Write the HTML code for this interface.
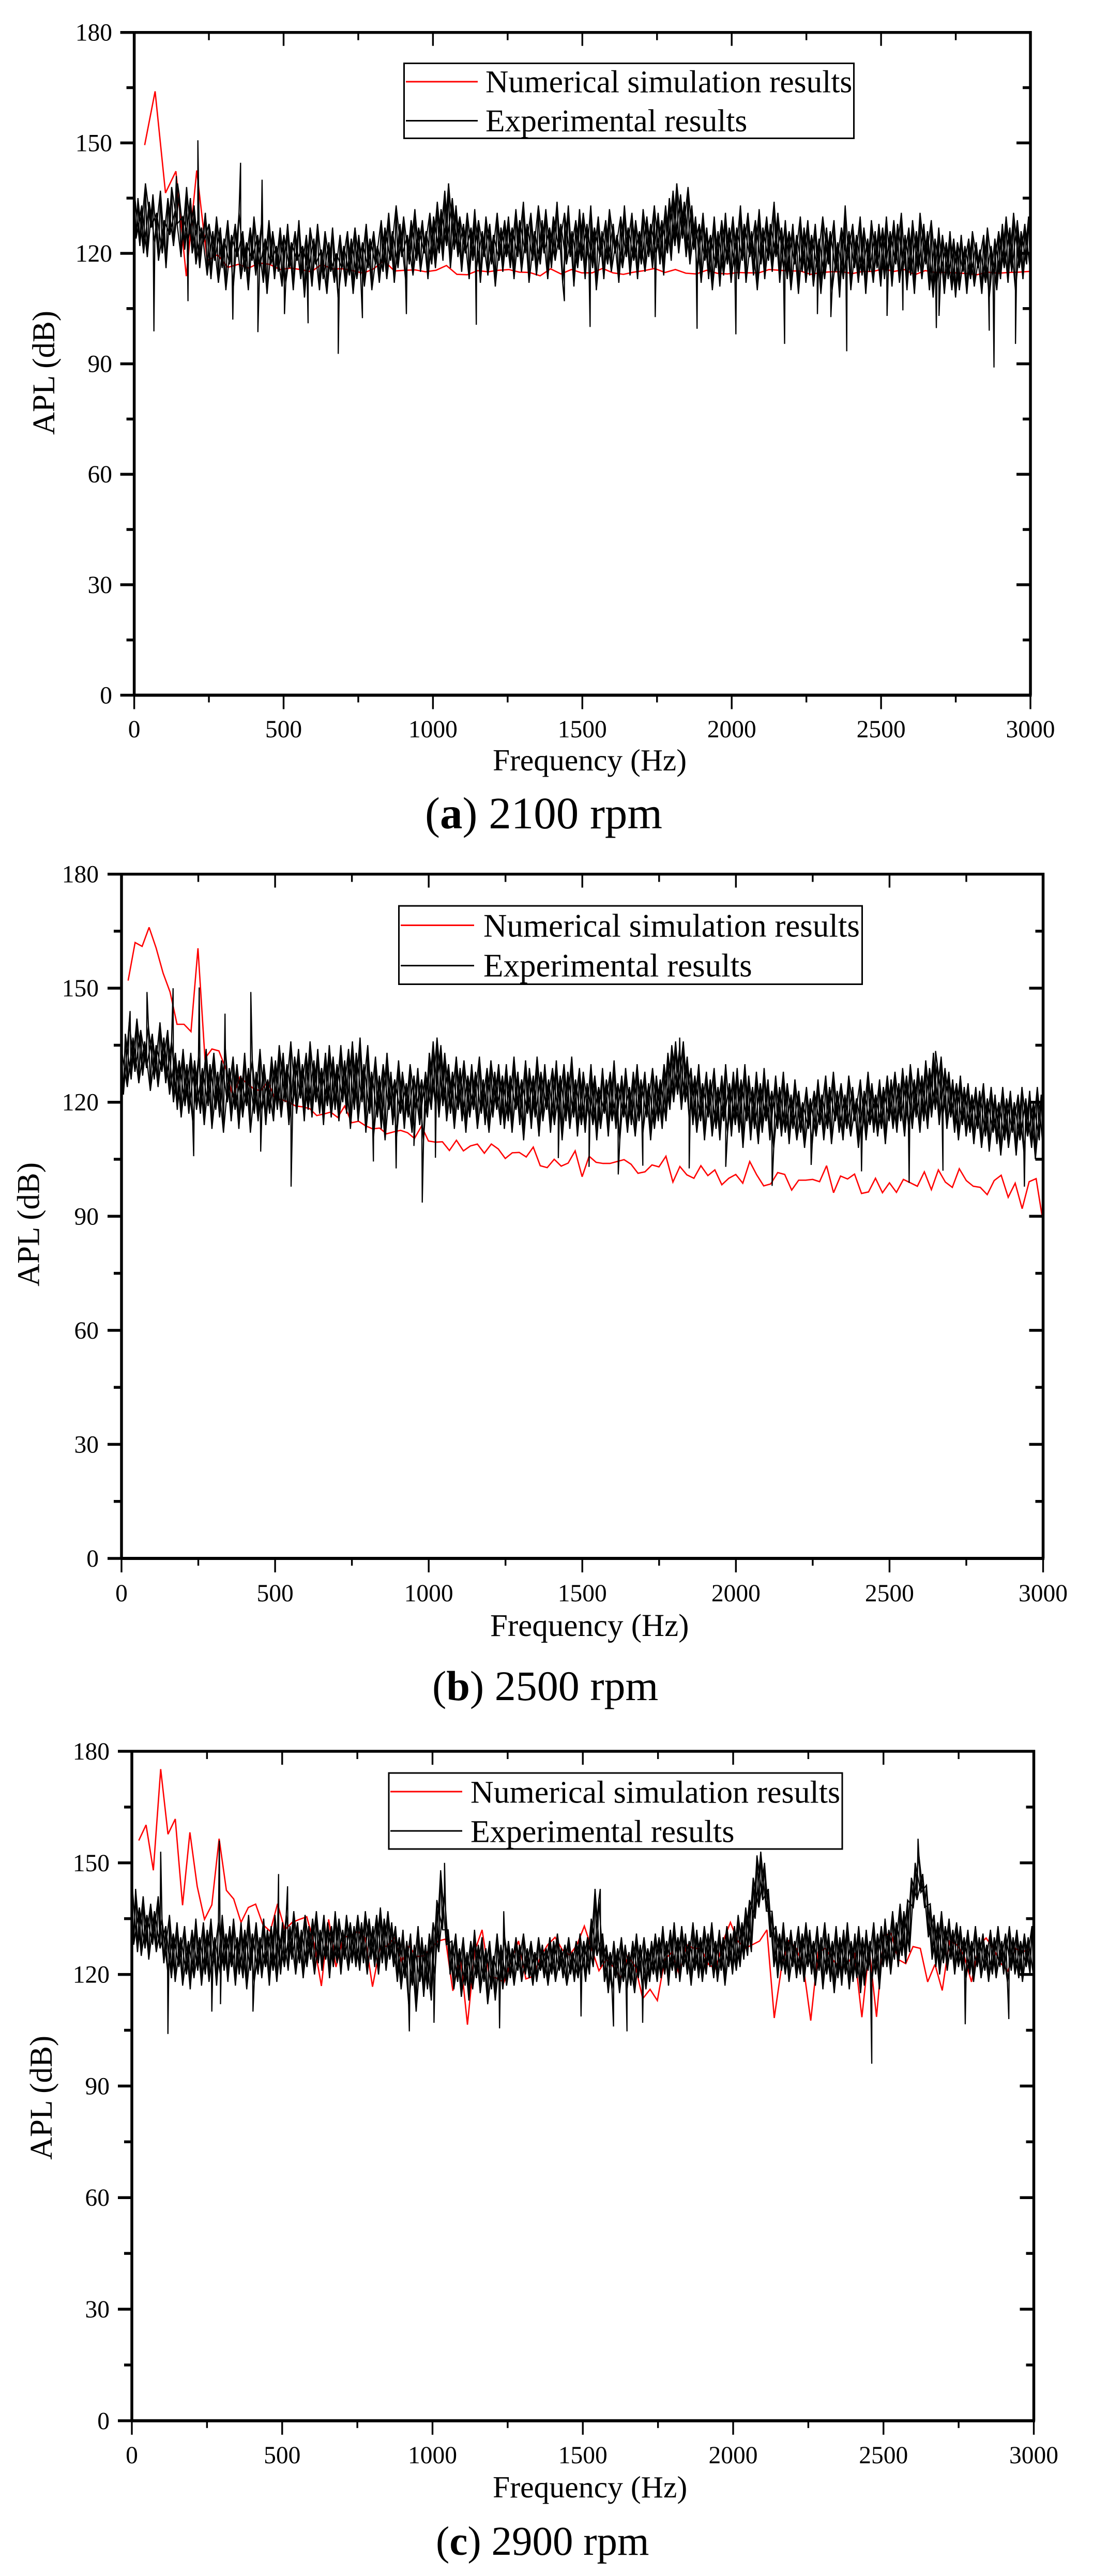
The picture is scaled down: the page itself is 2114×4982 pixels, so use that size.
<!DOCTYPE html>
<html lang="en">
<head>
<meta charset="utf-8">
<title>APL versus frequency at 2100, 2500 and 2900 rpm</title>
<style>
html,body{margin:0;padding:0;background:#fff}
svg{display:block}
text{font-family:"Liberation Serif",serif;fill:#000}
</style>
</head>
<body>
<svg id="figure" xmlns="http://www.w3.org/2000/svg" width="2114" height="4982" viewBox="0 0 2114 4982">
<rect x="0" y="0" width="2114" height="4982" fill="#fff"/>

<g id="chart-a">
  <g class="plot"></g>
  <text transform="translate(105,841) rotate(-90)" font-size="61">APL (dB)</text>
  <text x="953" y="1490" font-size="59.5">Frequency (Hz)</text>
  <g>
    <rect x="781.5" y="122.5" width="870" height="145" fill="#fff" stroke="#000" stroke-width="3"/>
    <line x1="785" x2="924" y1="158" y2="158" stroke="#f00" stroke-width="3"/>
    <text x="939" y="178.5" font-size="61.4">Numerical simulation results</text>
    <line x1="785" x2="924" y1="233.5" y2="233.5" stroke="#000" stroke-width="3"/>
    <text x="939" y="254" font-size="61.4">Experimental results</text>
  </g>
  <text x="822" y="1602" font-size="87"><tspan>(</tspan><tspan font-weight="bold">a</tspan><tspan>) 2100 rpm</tspan></text>
</g>

<g id="chart-b">
  <g class="plot"></g>
  <text transform="translate(75.5,2488) rotate(-90)" font-size="61">APL (dB)</text>
  <text x="948" y="3164" font-size="61">Frequency (Hz)</text>
  <g>
    <rect x="771.5" y="1752" width="896" height="151.5" fill="#fff" stroke="#000" stroke-width="3"/>
    <line x1="775" x2="917" y1="1789.5" y2="1789.5" stroke="#f00" stroke-width="3"/>
    <text x="935" y="1811.5" font-size="63">Numerical simulation results</text>
    <line x1="775" x2="917" y1="1867.5" y2="1867.5" stroke="#000" stroke-width="3"/>
    <text x="935" y="1888.5" font-size="63">Experimental results</text>
  </g>
  <text x="836" y="3288" font-size="82"><tspan>(</tspan><tspan font-weight="bold">b</tspan><tspan>) 2500 rpm</tspan></text>
</g>

<g id="chart-c">
  <g class="plot"></g>
  <text transform="translate(100,4177) rotate(-90)" font-size="61">APL (dB)</text>
  <text x="953" y="4830" font-size="59.7">Frequency (Hz)</text>
  <g>
    <rect x="752" y="3429" width="877" height="147" fill="#fff" stroke="#000" stroke-width="3"/>
    <line x1="755" x2="894" y1="3465" y2="3465" stroke="#f00" stroke-width="3"/>
    <text x="910" y="3486.5" font-size="61.9">Numerical simulation results</text>
    <line x1="755" x2="894" y1="3541" y2="3541" stroke="#000" stroke-width="3"/>
    <text x="910" y="3562.5" font-size="61.9">Experimental results</text>
  </g>
  <text x="843" y="4941" font-size="79"><tspan>(</tspan><tspan font-weight="bold">c</tspan><tspan>) 2900 rpm</tspan></text>
</g>
</svg>

<script>
const freqTickLabels = [0, 500, 1000, 1500, 2000, 2500, 3000];
const freqMinorTicks = [250, 750, 1250, 1750, 2250, 2750];
const aplTickLabels = [0, 30, 60, 90, 120, 150, 180];
const aplMinorTicks = [15, 45, 75, 105, 135, 165];

/* ---------- Chart (a) 2100 rpm ---------- */
const simStartHzA = 35;
const simEndHzA = 2996;
const simDbA = [149.4,164,136.4,142.3,113.8,142.5,118,119.6,116.2,117,116,117.4,117,115.6,116,115.6,115,117,115.8,115.8,115.3,114.6,115.8,118,115.2,115.4,115.5,115,115.4,116.7,114.3,114.2,115.3,115,115.4,115.6,114.9,114.8,113.9,
115.8,114.4,115.6,114.7,114.7,115.9,114.7,114.3,114.9,115.3,115.9,114.8,115.6,114.6,114.4,115.4,114.6,114.4,114.8,114.7,114.7,115.6,115.4,115.2,115.2,114.3,114.8,115,115,114.5,115.1,115.1,115.8,115.1,115.6,114.2,115.3,114.8,114.8,114.7,114.5,114.2,114.9,114.6,114.8,114.9,115.1];
const expDbA = [
137,124,135,122,133,120,139,119,134,127,136,123,131,118,137,120,129,116,135,125,138,122,132,128,136,119,130,121,138,124,135,120,133,117,129,116,127,123,131,114,
128,113,126,118,130,112,127,116,124,110,129,117,125,111,128,119,131,113,126,115,123,110,127,118,130,114,125,116,128,112,124,109,129,117,126,113,122,115,127,111,
125,112,128,116,123,110,126,118,129,113,122,108,125,115,127,111,124,117,128,110,121,113,126,109,123,115,127,112,120,108,125,116,122,111,126,114,124,109,127,113,
125,114,123,111,128,116,124,110,126,117,122,112,129,115,127,113,131,118,126,112,133,116,128,119,130,113,125,117,129,114,132,118,127,115,129,120,126,113,131,117,
130,116,134,120,132,118,137,122,139,116,135,121,133,119,130,115,128,120,131,113,127,118,132,116,129,112,126,119,130,114,128,117,125,111,131,118,127,115,129,119,
130,116,127,113,132,119,129,115,134,120,128,112,131,118,126,114,133,117,129,120,132,113,127,116,130,118,134,121,128,112,131,117,133,119,126,111,129,116,132,118,
131,113,128,118,133,116,127,110,130,119,126,113,129,117,132,115,128,120,125,112,130,116,133,119,127,114,131,118,129,113,126,117,132,115,130,119,128,116,133,120,
131,117,129,114,133,120,135,118,137,122,139,120,136,124,134,119,138,117,133,121,130,115,128,112,131,118,127,113,125,110,130,116,126,111,129,114,131,117,127,112,
130,116,127,113,133,118,128,112,131,119,126,114,129,110,132,117,127,113,130,118,128,115,134,119,131,112,127,116,129,113,126,110,128,117,125,109,130,115,127,112,
129,114,125,111,128,116,124,109,130,113,127,117,126,110,129,115,123,108,127,113,133,118,126,110,128,116,125,112,130,114,127,109,124,115,129,112,126,116,128,111,
127,113,130,115,126,111,129,117,128,112,131,116,125,110,127,114,129,109,126,115,131,113,128,117,126,110,129,108,124,112,127,114,125,109,123,113,126,110,124,108,
123,110,125,115,122,109,124,113,126,111,123,116,121,109,125,112,127,108,122,114,124,110,126,113,128,116,130,112,127,115,131,110,129,116,126,113,128,117,130,115
];
const spikeHzA = [141,145,213,356,428,66,180,330,414,503,582,683,764,911,1145,1440,1526,1744,1884,2014,2177,2287,2332,2385,2520,2573,2685,2694,2862,2878,2950];
const spikeDbA = [141,139,150.7,144.6,140,98.8,107,102,98.6,103.5,101,92.7,102.4,103.5,100.6,107,100,102.7,99.5,98,95.4,103.5,102.7,93.4,103,104.5,99.7,103,99,89,95.4];

/* ---------- Chart (b) 2500 rpm ---------- */
const simStartHzB = 21.6;
const simEndHzB = 3000;
const simDbB = [152,162,161,166,160.6,154,149,140.5,140.5,138.6,160.5,131.5,134,133.5,128.7,121.4,126.6,125,123.5,123,125.5,121,120.7,120,119,118.8,118.3,116.5,116.9,117.4,116,119,114.6,115,113.8,113,113.2,111.7,112.2,112.6,112,110.5,113.7,109.8,109.5,109.6,107.3,110,107.2,108.5,109,106.6,109,107.7,105.2,106.7,106.8,105.6,108.2,103.3,
102.8,105,103.2,104,107.2,100.4,105.8,104.2,103.9,103.9,104.4,104.9,103.7,101.3,101.7,103.5,103,105.8,99,103.1,100.9,100,103.3,100.7,102.2,98.3,100,101,98.7,104.4,100.9,98,98.5,101.5,101,96.9,99.5,99.5,99.7,99.1,103.3,96.2,100.6,99.8,101.1,96,96.4,100,96.2,98.8,96.3,99.7,98.8,97.9,101.7,97,102.2,99,97.6,102.5,99.4,97.9,97.6,95.7,99.4,100.8,95,98.7,92,99.1,99.9,88.4];
const expDbB = [
134,122,138,124,141,126,137,128,142,125,139,127,136,129,140,123,138,126,135,124,141,128,137,125,139,122,136,120,133,118,131,116,134,119,130,117,133,115,131,118,
132,117,129,114,134,119,130,113,133,118,128,116,131,112,134,120,129,115,132,118,130,113,127,116,133,119,129,112,131,117,128,115,134,118,130,114,126,117,132,115,
131,118,135,116,133,120,130,114,136,119,132,117,134,121,130,115,133,118,136,116,131,120,134,117,129,114,133,119,135,116,132,118,130,115,135,120,131,117,134,113,
136,118,133,115,137,120,130,112,135,117,128,111,132,116,127,113,130,110,133,118,128,114,126,111,131,117,128,113,125,116,130,112,127,118,129,114,126,110,128,116,
133,118,136,120,137,116,135,119,133,115,130,117,128,113,132,118,129,115,131,112,127,116,130,118,128,113,132,117,126,114,129,112,131,116,128,118,130,114,127,113,
130,115,127,112,132,118,128,114,126,110,131,117,129,113,127,116,132,111,128,115,130,118,126,112,129,114,131,117,127,110,130,115,128,113,132,116,126,111,129,114,
128,112,125,116,130,114,127,110,124,113,129,117,126,111,128,115,131,113,125,110,127,116,129,112,124,114,128,111,130,115,126,112,128,116,125,110,129,113,127,115,
126,113,130,115,133,118,135,120,136,122,134,118,136,120,132,116,129,114,127,112,130,115,125,110,128,116,126,111,129,113,124,110,127,115,130,112,125,111,128,114,
129,112,126,108,130,115,127,110,124,113,128,109,125,112,129,115,126,110,123,108,127,113,124,111,128,112,125,109,122,113,126,110,123,112,120,108,124,113,121,109,
123,111,126,114,122,110,127,113,124,109,128,115,123,112,125,110,122,113,127,111,124,115,121,108,126,112,123,110,128,114,125,112,122,111,126,113,124,109,127,115,
126,113,128,112,125,115,129,111,127,114,130,113,126,116,129,112,127,115,131,113,129,116,133,118,130,114,132,117,129,113,128,116,126,112,125,110,127,114,124,111,
125,112,122,109,124,113,123,108,125,111,121,107,124,112,122,109,120,106,124,110,121,108,123,112,120,106,122,110,124,107,121,111,123,108,120,105,124,110,122,108
];
const spikeHzB = [28,83,168,253,337,421,1817,2650,235,453,552,820,894,952,979,1022,1422,1522,1617,1697,1848,1967,2118,2245,2409,2564,2674,2939];
const spikeDbB = [144,149,150,150.2,143.3,149,137,133.5,105.8,107,97.8,104.4,102.6,108.5,93.6,105.4,105.3,103,101,103.3,102.6,103,98,103.5,101.8,98.8,102,97.8];

/* ---------- Chart (c) 2900 rpm ---------- */
const simStartHzC = 23;
const simEndHzC = 2987;
const simDbC = [156,160.2,148,175.2,157.7,161.8,138.6,158.2,143.7,134.8,138.7,156.5,142.6,140.3,134,138,138.9,133.4,131.6,139,132,134,134.8,135.5,128.4,116.9,134.8,122,130,130.4,131.6,129.8,116.7,127,127.7,129.8,123.4,127.7,124.8,125,127,129,129.5,115.6,125.5,106.5,126.3,132,119.5,119,117.9,124,129,118.8,119.5,124.8,
128,130,126.6,125.2,128,133,127,121,124,122,119,125,122,113.5,116,113,124,126,120,128,127,127,122.7,121.5,129,134,129,127,128,129,132,108.3,122,129,127,122,107.6,126,127,124,121.6,123,125.5,108.5,127,108.6,130.5,131,124,122.9,127.5,127,118,122.7,115.7,129,128,125,118,127.7,129.8,127,123,120.9,127,126,127];
const expDbC = [
145,128,143,126,138,125,141,127,136,124,139,128,137,126,141,127,135,123,133,121,136,119,131,118,134,122,130,117,133,120,129,116,132,119,135,121,130,117,134,120,
132,118,135,122,130,117,134,120,136,121,131,118,133,122,135,117,130,120,134,119,132,116,136,121,131,118,134,120,130,119,135,122,132,117,133,121,136,118,131,120,
134,122,136,121,133,124,137,120,134,123,132,119,136,122,133,124,135,120,137,123,132,121,136,124,134,119,133,122,137,123,135,120,132,124,136,121,134,123,133,122,
136,121,134,123,137,120,135,124,133,122,136,120,138,123,135,121,137,124,134,122,133,118,130,116,132,119,129,112,131,117,128,110,133,118,130,114,128,116,131,113,
134,120,140,126,148,132,142,128,132,120,129,116,131,118,127,114,130,117,126,113,129,116,132,119,128,115,130,118,127,112,129,116,125,113,131,118,128,116,130,117,
129,119,127,117,130,121,128,118,131,120,127,119,129,117,126,118,130,121,128,119,127,117,130,120,129,118,131,121,127,119,128,117,130,120,126,118,129,119,131,121,
129,118,130,120,135,122,143,125,140,122,131,118,128,115,126,116,129,119,127,115,130,118,128,116,126,117,129,115,131,119,128,117,130,116,127,118,129,120,131,118,
130,119,133,120,129,117,132,121,134,119,130,118,133,122,131,120,129,117,134,121,132,119,130,118,133,120,131,122,134,119,129,118,132,121,130,117,133,122,131,120,
133,121,136,122,134,124,138,125,140,126,146,135,152,138,153,140,150,137,143,130,137,122,133,119,131,121,134,120,130,118,132,122,129,119,133,120,131,118,134,122,
132,120,129,117,133,121,130,116,134,120,131,118,129,115,133,119,130,117,132,120,134,116,129,118,131,119,133,115,130,117,132,121,129,118,134,120,131,116,133,122,
135,122,132,120,137,124,134,122,139,125,137,123,140,126,146,138,150,140,152,142,147,138,144,130,139,124,136,122,134,120,137,123,133,121,135,124,132,120,134,122,
133,121,130,119,132,120,129,118,133,122,130,119,131,121,128,118,132,120,130,119,133,122,129,120,131,118,133,121,130,120,132,119,129,118,131,122,130,120,133,119
];
const spikeHzC = [96,291,488,518,1040,1237,1558,2615,120,266,295,403,923,1005,1223,1494,1602,1647,1699,2461,2772,2917];
const spikeDbC = [153,156,147,143.7,150,137,143,156.5,104,110,112,110,104.7,107,105.5,108.7,106,104.7,107,96,106.6,108];

/* ---------- Layout ---------- */
const chartA = {id:'chart-a', suffix:'a', left:259.6, right:1993, top:62.7, bottom:1344.5, labelGap:42.6, xLabelY:1426, simStart:simStartHzA, simEnd:simEndHzA, sim:simDbA, exp:expDbA, spikeHz:spikeHzA, spikeDb:spikeDbA};
const chartB = {id:'chart-b', suffix:'b', left:235, right:2017.5, top:1690.6, bottom:3014, labelGap:44, xLabelY:3097, simStart:simStartHzB, simEnd:simEndHzB, sim:simDbB, exp:expDbB, spikeHz:spikeHzB, spikeDb:spikeDbB};
const chartC = {id:'chart-c', suffix:'c', left:255, right:1999.5, top:3387, bottom:4681.8, labelGap:43, xLabelY:4764, simStart:simStartHzC, simEnd:simEndHzC, sim:simDbC, exp:expDbC, spikeHz:spikeHzC, spikeDb:spikeDbC};

const NS = 'http://www.w3.org/2000/svg';

function addLine(parent, name, x1, y1, x2, y2, width, cap) {
  const el = document.createElementNS(NS, 'line');
  
  
  el.setAttribute('x1', x1);
  el.setAttribute('y1', y1);
  el.setAttribute('x2', x2);
  el.setAttribute('y2', y2);
  el.setAttribute('stroke', '#000');
  el.setAttribute('stroke-width', width);
  el.setAttribute('stroke-linecap', cap || 'butt');
  parent.appendChild(el);
}

function addLabel(parent, name, x, y, anchor, content) {
  const el = document.createElementNS(NS, 'text');
  
  
  el.setAttribute('x', x);
  el.setAttribute('y', y);
  el.setAttribute('text-anchor', anchor);
  el.setAttribute('font-size', '47.5');
  el.textContent = content;
  parent.appendChild(el);
}

function addSeries(parent, name, d, color, width) {
  const el = document.createElementNS(NS, 'path');
  
  
  el.setAttribute('d', d);
  el.setAttribute('fill', 'none');
  el.setAttribute('stroke', color);
  el.setAttribute('stroke-width', width);
  el.setAttribute('stroke-linejoin', 'miter');
  el.setAttribute('stroke-miterlimit', '3');
  parent.appendChild(el);
}

function drawChart(cfg) {
  const plot = document.querySelector('#' + cfg.id + ' .plot');
  const sx = function (hz) { return cfg.left + (hz / 3000) * (cfg.right - cfg.left); };
  const sy = function (db) { return cfg.bottom - (db / 180) * (cfg.bottom - cfg.top); };
  const toPath = function (pts) {
    return pts.map(function (p, i) {
      return (i ? 'L' : 'M') + sx(p.hz).toFixed(1) + ' ' + sy(p.db).toFixed(1);
    }).join('');
  };

  const simPts = cfg.sim.map(function (db, i) {
    return {hz: cfg.simStart + i * (cfg.simEnd - cfg.simStart) / (cfg.sim.length - 1), db: db};
  });
  addSeries(plot, 'simulation-line-' + cfg.suffix, toPath(simPts), '#f00', 2.6);

  const basePts = cfg.exp.map(function (db, i) {
    return {hz: i * 3000 / (cfg.exp.length - 1), db: db};
  });

  /* Extra passes over the same samples thicken the dense core of the spectrum. */
  [0, 1, 2].forEach(function (offset) {
    const pass = basePts.filter(function (p, i) { return i % 3 === offset; });
    addSeries(plot, 'experimental-core-' + cfg.suffix, toPath(pass), '#000', 2.2);
  });

  const expPts = basePts.slice();
  cfg.spikeHz.forEach(function (hz, i) {
    expPts.push({hz: hz, db: cfg.spikeDb[i]});
  });
  expPts.sort(function (a, b) { return a.hz - b.hz; });
  addSeries(plot, 'experimental-line-' + cfg.suffix, toPath(expPts), '#000', 2.3);

  addLine(plot, 'left-axis-' + cfg.suffix, cfg.left, cfg.top, cfg.left, cfg.bottom, 5.5);
  addLine(plot, 'right-axis-' + cfg.suffix, cfg.right, cfg.top - 2.5, cfg.right, cfg.bottom, 5.5);
  addLine(plot, 'top-axis-' + cfg.suffix, cfg.left, cfg.top, cfg.right + 2.5, cfg.top, 5.5);
  addLine(plot, 'bottom-axis-' + cfg.suffix, cfg.left, cfg.bottom, cfg.right + 2.5, cfg.bottom, 6);

  freqTickLabels.forEach(function (hz) {
    addLine(plot, 'x-tick-major-' + cfg.suffix, sx(hz), cfg.bottom, sx(hz), cfg.bottom + 27, 3.4);
    if (hz > 0 && hz < 3000) {
      addLine(plot, 'x-tick-top-major-' + cfg.suffix, sx(hz), cfg.top, sx(hz), cfg.top + 26, 3.4);
    }
    addLabel(plot, 'x-tick-label-' + cfg.suffix, sx(hz), cfg.xLabelY, 'middle', hz);
  });
  freqMinorTicks.forEach(function (hz) {
    addLine(plot, 'x-tick-minor-' + cfg.suffix, sx(hz), cfg.bottom, sx(hz), cfg.bottom + 14, 3.4);
    addLine(plot, 'x-tick-top-minor-' + cfg.suffix, sx(hz), cfg.top, sx(hz), cfg.top + 15, 3.4);
  });
  aplTickLabels.forEach(function (db) {
    addLine(plot, 'y-tick-major-' + cfg.suffix, cfg.left - 27, sy(db), cfg.left, sy(db), 5.5);
    if (db > 0 && db < 180) {
      addLine(plot, 'y-tick-right-major-' + cfg.suffix, cfg.right - 27, sy(db), cfg.right, sy(db), 5.5);
    }
    addLabel(plot, 'y-tick-label-' + cfg.suffix, cfg.left - cfg.labelGap, sy(db) + 16, 'end', db);
  });
  aplMinorTicks.forEach(function (db) {
    addLine(plot, 'y-tick-minor-' + cfg.suffix, cfg.left - 15, sy(db), cfg.left, sy(db), 5.5);
    addLine(plot, 'y-tick-right-minor-' + cfg.suffix, cfg.right - 15, sy(db), cfg.right, sy(db), 5.5);
  });
}

drawChart(chartA);
drawChart(chartB);
drawChart(chartC);
</script>
</body>
</html>
